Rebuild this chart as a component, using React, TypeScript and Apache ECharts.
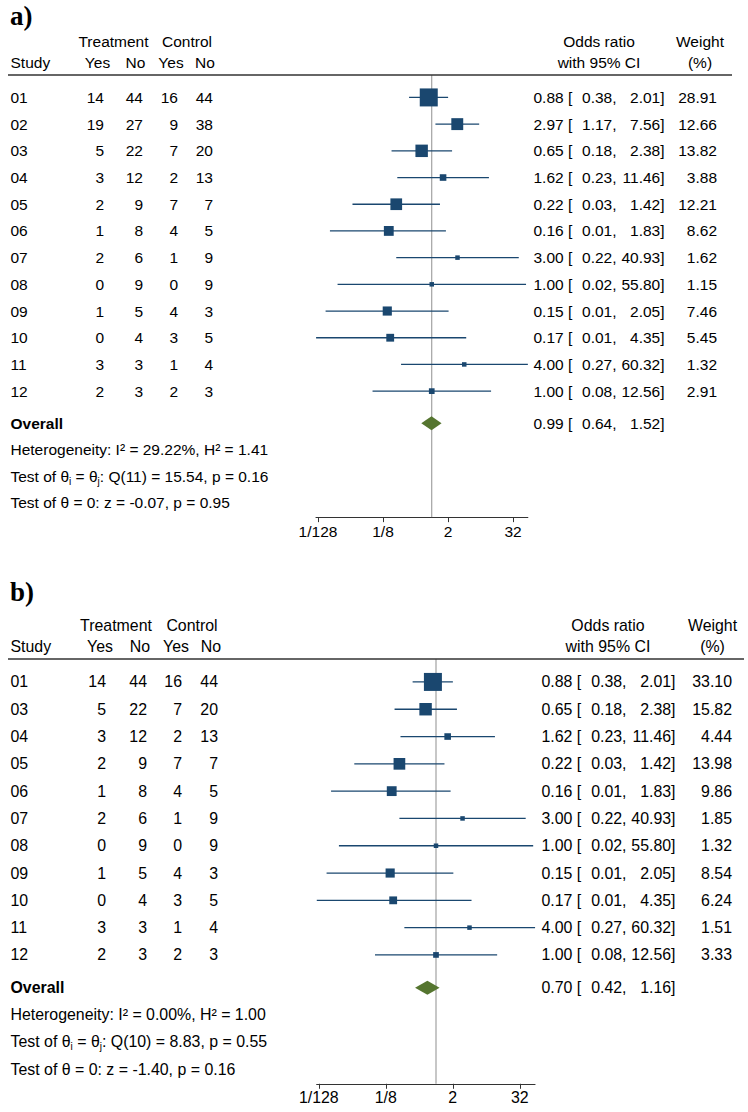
import React, { useEffect, useRef } from "react";
import * as echarts from "echarts";

// ---------- DATA (panel a) ----------
const studiesA = ["01", "02", "03", "04", "05", "06", "07", "08", "09", "10", "11", "12"];
const treatYesA = [14, 19, 5, 3, 2, 1, 2, 0, 1, 0, 3, 2];
const treatNoA = [44, 27, 22, 12, 9, 8, 6, 9, 5, 4, 3, 3];
const ctrlYesA = [16, 9, 7, 2, 7, 4, 1, 0, 4, 3, 1, 2];
const ctrlNoA = [44, 38, 20, 13, 7, 5, 9, 9, 3, 5, 4, 3];
const oddsA = [0.88, 2.97, 0.65, 1.62, 0.22, 0.16, 3.0, 1.0, 0.15, 0.17, 4.0, 1.0];
const lowerA = [0.38, 1.17, 0.18, 0.23, 0.034, 0.013, 0.22, 0.018, 0.0108, 0.0072, 0.27, 0.08];
const upperA = [2.01, 7.56, 2.38, 11.46, 1.42, 1.83, 40.93, 55.8, 2.05, 4.35, 60.32, 12.56];
const weightA = [28.91, 12.66, 13.82, 3.88, 12.21, 8.62, 1.62, 1.15, 7.46, 5.45, 1.32, 2.91];
const overallA = [0.99, 0.64, 1.52];
const statsA = [
  "Heterogeneity: I² = 29.22%, H² = 1.41",
  "Test of θ{s|i} = θ{s|j}: Q(11) = 15.54, p = 0.16",
  "Test of θ = 0: z = -0.07, p = 0.95",
];

// ---------- DATA (panel b) ----------
const studiesB = ["01", "03", "04", "05", "06", "07", "08", "09", "10", "11", "12"];
const treatYesB = [14, 5, 3, 2, 1, 2, 0, 1, 0, 3, 2];
const treatNoB = [44, 22, 12, 9, 8, 6, 9, 5, 4, 3, 3];
const ctrlYesB = [16, 7, 2, 7, 4, 1, 0, 4, 3, 1, 2];
const ctrlNoB = [44, 20, 13, 7, 5, 9, 9, 3, 5, 4, 3];
const oddsB = [0.88, 0.65, 1.62, 0.22, 0.16, 3.0, 1.0, 0.15, 0.17, 4.0, 1.0];
const lowerB = [0.38, 0.18, 0.23, 0.034, 0.013, 0.22, 0.018, 0.0108, 0.0072, 0.27, 0.08];
const upperB = [2.01, 2.38, 11.46, 1.42, 1.83, 40.93, 55.8, 2.05, 4.35, 60.32, 12.56];
const weightB = [33.1, 15.82, 4.44, 13.98, 9.86, 1.85, 1.32, 8.54, 6.24, 1.51, 3.33];
const overallB = [0.7, 0.42, 1.16];
const statsB = [
  "Heterogeneity: I² = 0.00%, H² = 1.00",
  "Test of θ{s|i} = θ{s|j}: Q(10) = 8.83, p = 0.55",
  "Test of θ = 0: z = -1.40, p = 0.16",
];

// ---------- AXIS TICKS ----------
const tickValues = [1 / 128, 1 / 8, 2, 32];
const tickLabels = ["1/128", "1/8", "2", "32"];

const FONT = '"Liberation Sans", Arial, Helvetica, sans-serif';
const NAVY = "#1a476f";
const GREEN = "#55752f";

type Layout = {
  label: string;
  labelY: number;
  top: number;
  rowH: number;
  one: number;
  unit: number;
  fs: number;
  study: number;
  nums: number[];
  heads: number[];
  treatC: number;
  ctrlC: number;
  estL: number;
  lowR: number;
  upR: number;
  wR: number;
  orC: number;
  wC: number;
  lineL: number;
  lineR: number;
};

const layoutA: Layout = {
  label: "a)", labelY: 16, top: 75, rowH: 26.7, one: 431.75, unit: 16.25, fs: 15.5,
  study: 10.5, nums: [104, 143, 178, 213], heads: [97.5, 135.5, 171, 205], treatC: 113.5, ctrlC: 187,
  estL: 533.5, lowR: 616.5, upR: 664.5, wR: 717, orC: 599, wC: 700, lineL: 8, lineR: 732,
};
const layoutB: Layout = {
  label: "b)", labelY: 592, top: 659, rowH: 27.3, one: 436, unit: 16.75, fs: 15.9,
  study: 10.5, nums: [106, 147, 182, 218], heads: [100, 140, 176, 211], treatC: 116, ctrlC: 192,
  estL: 541.5, lowR: 626.5, upR: 675.5, wR: 732, orC: 608, wC: 712.5, lineL: 8, lineR: 744,
};

type Panel = {
  studies: string[]; ty: number[]; tn: number[]; cy: number[]; cn: number[];
  or: number[]; lo: number[]; hi: number[]; w: number[]; overall: number[]; stats: string[];
};

const panelA: Panel = { studies: studiesA, ty: treatYesA, tn: treatNoA, cy: ctrlYesA, cn: ctrlNoA, or: oddsA, lo: lowerA, hi: upperA, w: weightA, overall: overallA, stats: statsA };
const panelB: Panel = { studies: studiesB, ty: treatYesB, tn: treatNoB, cy: ctrlYesB, cn: ctrlNoB, or: oddsB, lo: lowerB, hi: upperB, w: weightB, overall: overallB, stats: statsB };

const X_MIN = -7.125;
const X_MAX = Math.log2(60.32);
const Y_MIN = -0.84;

function txt(x: number, y: number, text: string, fs: number, align: string, bold = false, extra: any = {}) {
  return {
    type: "text",
    x,
    y,
    style: {
      text,
      fill: "#000",
      fontSize: fs,
      fontFamily: FONT,
      fontWeight: bold ? "bold" : "normal",
      align,
      verticalAlign: "middle",
      ...extra,
    },
  };
}

function ciTexts(L: Layout, y: number, est: number, lo: number, hi: number) {
  return [
    txt(L.estL, y, est.toFixed(2) + " [", L.fs, "left"),
    txt(L.lowR, y, lo.toFixed(2) + ",", L.fs, "right"),
    txt(L.upR, y, hi.toFixed(2) + "]", L.fs, "right"),
  ];
}

function buildPanel(p: Panel, L: Layout, gi: number) {
  const N = p.studies.length;
  const yMax = N + 3.72;
  const grid = {
    left: L.one + X_MIN * L.unit,
    top: L.top,
    width: (X_MAX - X_MIN) * L.unit,
    height: (yMax - Y_MIN) * L.rowH,
    outerBoundsMode: "none",
    containLabel: false,
  };
  const tickLog = tickValues.map((v) => Math.log2(v));
  const xAxis = {
    type: "value",
    gridIndex: gi,
    min: X_MIN,
    max: X_MAX,
    axisLine: { show: true, onZero: false, lineStyle: { color: "#333", width: 1 } },
    axisTick: { show: true, inside: false, length: 5, customValues: tickLog, lineStyle: { color: "#333", width: 1 } },
    axisLabel: {
      show: true,
      customValues: tickLog,
      margin: 6,
      color: "#000",
      fontSize: L.fs,
      fontFamily: FONT,
      formatter: (v: number) => {
        let best = 0;
        tickLog.forEach((t, i) => {
          if (Math.abs(t - v) < Math.abs(tickLog[best] - v)) best = i;
        });
        return tickLabels[best];
      },
    },
    splitLine: { show: false },
  };
  const yAxis = { type: "value", gridIndex: gi, inverse: true, min: Y_MIN, max: yMax, show: false };

  const rows = p.studies.map((_, i) => i);
  const series: any[] = [];

  series.push({
    type: "line",
    xAxisIndex: gi,
    yAxisIndex: gi,
    data: [[Math.log2(1), Y_MIN], [Math.log2(1), yMax]],
    symbol: "none",
    silent: true,
    lineStyle: { color: "#8f8f8f", width: 1 },
    z: 1,
  });

  series.push({
    type: "custom",
    xAxisIndex: gi,
    yAxisIndex: gi,
    data: rows.map((i) => [Math.log2(p.lo[i]), Math.log2(p.hi[i]), i]),
    encode: { x: [0, 1], y: 2 },
    z: 2,
    silent: true,
    renderItem: (params: any, api: any) => {
      const a = api.coord([api.value(0), api.value(2)]);
      const b = api.coord([api.value(1), api.value(2)]);
      return {
        type: "line",
        shape: { x1: a[0], y1: a[1], x2: b[0], y2: b[1] },
        style: { stroke: NAVY, lineWidth: 1.3 },
      };
    },
  });

  const wMax = Math.max(...p.w);
  series.push({
    type: "scatter",
    xAxisIndex: gi,
    yAxisIndex: gi,
    data: rows.map((i) => [Math.log2(p.or[i]), i, p.w[i]]),
    symbol: "rect",
    symbolSize: (val: number[]) => Math.max(4.5, 18 * Math.sqrt(val[2] / wMax)),
    itemStyle: { color: NAVY, opacity: 1 },
    silent: true,
    z: 3,
  });

  series.push({
    type: "custom",
    xAxisIndex: gi,
    yAxisIndex: gi,
    data: [[Math.log2(p.overall[1]), Math.log2(p.overall[0]), Math.log2(p.overall[2]), N + 0.2]],
    encode: { x: [0, 2], y: 3 },
    z: 3,
    silent: true,
    renderItem: (params: any, api: any) => {
      const l = api.coord([api.value(0), api.value(3)]);
      const m = api.coord([api.value(1), api.value(3)]);
      const r = api.coord([api.value(2), api.value(3)]);
      const h = 7;
      return {
        type: "polygon",
        shape: { points: [[l[0], l[1]], [m[0], m[1] - h], [r[0], r[1]], [m[0], m[1] + h]] },
        style: { fill: GREEN },
      };
    },
  });

  series.push({
    type: "custom",
    xAxisIndex: gi,
    yAxisIndex: gi,
    data: rows.map((i) => [0, i]),
    encode: { x: 0, y: 1 },
    z: 4,
    silent: true,
    renderItem: (params: any, api: any) => {
      const i = params.dataIndex;
      const y = api.coord([0, api.value(1)])[1];
      const fs = L.fs;
      return {
        type: "group",
        children: [
          txt(L.study, y, p.studies[i], fs, "left"),
          txt(L.nums[0], y, String(p.ty[i]), fs, "right"),
          txt(L.nums[1], y, String(p.tn[i]), fs, "right"),
          txt(L.nums[2], y, String(p.cy[i]), fs, "right"),
          txt(L.nums[3], y, String(p.cn[i]), fs, "right"),
          ...ciTexts(L, y, p.or[i], p.lo[i], p.hi[i]),
          txt(L.wR, y, p.w[i].toFixed(2), fs, "right"),
        ],
      };
    },
  });

  series.push({
    type: "custom",
    xAxisIndex: gi,
    yAxisIndex: gi,
    data: [[0, 0]],
    encode: { x: 0, y: 1 },
    z: 4,
    silent: true,
    renderItem: (params: any, api: any) => {
      const Y = (r: number) => api.coord([0, r])[1];
      const fs = L.fs;
      const yT = Y(-2.08);
      const yS = Y(-1.29);
      const yL = Y(Y_MIN);
      const yO = Y(N + 0.2);
      const st = [N + 1.18, N + 2.18, N + 3.18].map(Y);
      return {
        type: "group",
        children: [
          txt(L.treatC, yT, "Treatment", fs, "center"),
          txt(L.ctrlC, yT, "Control", fs, "center"),
          txt(L.study, yS, "Study", fs, "left"),
          txt(L.heads[0], yS, "Yes", fs, "center"),
          txt(L.heads[1], yS, "No", fs, "center"),
          txt(L.heads[2], yS, "Yes", fs, "center"),
          txt(L.heads[3], yS, "No", fs, "center"),
          txt(L.orC, yT, "Odds ratio", fs, "center"),
          txt(L.orC, yS, "with 95% CI", fs, "center"),
          txt(L.wC, yT, "Weight", fs, "center"),
          txt(L.wC, yS, "(%)", fs, "center"),
          {
            type: "line",
            shape: { x1: L.lineL, y1: yL, x2: L.lineR, y2: yL },
            style: { stroke: "#333", lineWidth: 1.6 },
          },
          txt(L.study, yO, "Overall", fs, "left", true),
          ...ciTexts(L, yO, p.overall[0], p.overall[1], p.overall[2]),
          ...p.stats.map((s, k) =>
            txt(L.study, st[k], s, fs, "left", false, {
              lineHeight: 20,
              rich: { s: { fontSize: 10, fontFamily: FONT, fill: "#000", lineHeight: 10, verticalAlign: "bottom" } },
            })
          ),
        ],
      };
    },
  });

  return { grid, xAxis, yAxis, series };
}

export default function App() {
  const ref = useRef<HTMLDivElement>(null);
  useEffect(() => {
    if (!ref.current) return;
    const chart = echarts.init(ref.current, undefined, { renderer: "svg" });
    const pa = buildPanel(panelA, layoutA, 0);
    const pb = buildPanel(panelB, layoutB, 1);
    chart.setOption({
      animation: false,
      backgroundColor: "#fff",
      grid: [pa.grid, pb.grid],
      xAxis: [pa.xAxis, pb.xAxis],
      yAxis: [pa.yAxis, pb.yAxis],
      series: [...pa.series, ...pb.series],
      graphic: [layoutA, layoutB].map((L) => ({
        type: "text",
        x: 10,
        y: L.labelY,
        silent: true,
        style: {
          text: L.label,
          fill: "#000",
          fontSize: 27,
          fontWeight: "bold",
          fontFamily: '"Liberation Serif", "Times New Roman", serif',
          verticalAlign: "middle",
          align: "left",
        },
      })),
    });
    return () => chart.dispose();
  }, []);
  return (
    <div
      ref={ref}
      style={{ position: "absolute", left: 0, top: 0, width: 748, height: 1112, background: "#fff" }}
    />
  );
}
